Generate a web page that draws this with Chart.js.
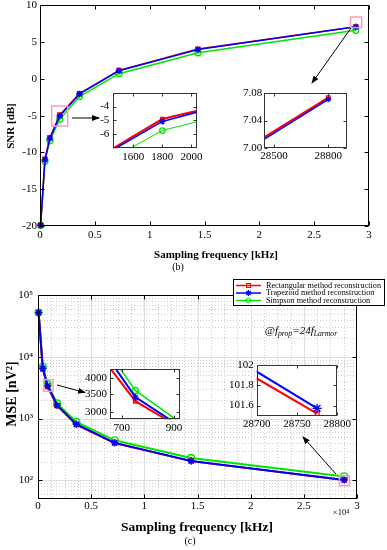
<!DOCTYPE html>
<html>
<head>
<meta charset="utf-8">
<script src="https://cdn.jsdelivr.net/npm/chart.js@4.4.1/dist/chart.umd.min.js"></script>
<style>
  body { margin: 0; width: 387px; height: 550px; position: relative; overflow: hidden; background: #fff;
         font-family: "Liberation Serif", "Times New Roman", serif; color: #000; }
  canvas, svg { position: absolute; }
  .c { position: absolute; transform: translate(-50%, -50%); white-space: nowrap; line-height: 1; }
  .r { transform: translate(-50%, -50%) rotate(-90deg); }
  .b { font-weight: bold; }
  #legend { position: absolute; left: 233px; top: 279px; width: 150px; height: 25px; border: 1px solid #000; background: #fff; }
  #legend .row { position: absolute; left: 32px; font-size: 8.2px; line-height: 1; white-space: nowrap; transform: translateY(-50%); }
  sub { font-size: 70%; vertical-align: -0.3em; }
</style>
</head>
<body>
<canvas id="snr" width="387" height="275" style="left:0;top:0"></canvas>
<canvas id="mse" width="387" height="275" style="left:0;top:275px"></canvas>

<svg width="387" height="550" style="left:0;top:0">
  <defs>
    <marker id="ah" markerWidth="8" markerHeight="6" refX="7" refY="3" orient="auto" markerUnits="userSpaceOnUse">
      <path d="M0,0 L8,3 L0,6 Z" fill="#000"/>
    </marker>
  </defs>
  <g stroke="#000" stroke-width="1" marker-end="url(#ah)">
    <line x1="72" y1="118" x2="99" y2="118"/>
    <line x1="351" y1="28" x2="312" y2="83"/>
    <line x1="57" y1="385" x2="85" y2="392.5"/>
    <line x1="336" y1="474" x2="303" y2="437"/>
  </g>
</svg>

<canvas id="snrIn1" width="118" height="78" style="left:84px;top:86px"></canvas>
<canvas id="snrIn2" width="124" height="76" style="left:228px;top:86px"></canvas>
<canvas id="mseIn1" width="108" height="74" style="left:78px;top:362px"></canvas>
<canvas id="mseIn2" width="134" height="74" style="left:222px;top:358px"></canvas>

<div class="c b" style="left:216px;top:254px;font-size:11px">Sampling frequency [kHz]</div>
<div class="c" style="left:178px;top:267px;font-size:10px">(b)</div>
<div class="c b r" style="left:10px;top:126px;font-size:11px">SNR [dB]</div>

<div class="c b" style="left:197px;top:527px;font-size:13.5px">Sampling frequency [kHz]</div>
<div class="c" style="left:190px;top:541px;font-size:10px">(c)</div>
<div class="c b r" style="left:12px;top:394px;font-size:14px">MSE [nV²]</div>
<div class="c" style="left:341px;top:512px;font-size:8.5px">×10⁴</div>
<div class="c" style="left:301px;top:331px;font-size:11px;font-style:italic">@f<sub>prop</sub>=24f<sub>Larmor</sub></div>

<div id="legend">
  <svg width="30" height="25" style="left:0;top:0">
    <line x1="2" y1="5.5" x2="27" y2="5.5" stroke="#f00" stroke-width="1.5"/>
    <rect x="12.5" y="3.5" width="4" height="4" fill="none" stroke="#f00"/>
    <line x1="2" y1="13" x2="27" y2="13" stroke="#00f" stroke-width="1.5"/>
    <path d="M14.5 10v6M11.5 13h6M12.4 10.9l4.2 4.2M16.6 10.9l-4.2 4.2" stroke="#00f" stroke-width="1.2"/>
    <line x1="2" y1="20.5" x2="27" y2="20.5" stroke="#00e400" stroke-width="1.5"/>
    <circle cx="14.5" cy="20.5" r="2.4" fill="none" stroke="#00e400"/>
  </svg>
  <div class="row" id="lg0" style="top:5.5px"></div>
  <div class="row" id="lg1" style="top:13px"></div>
  <div class="row" id="lg2" style="top:20.5px"></div>
</div>

<script>
// sampling frequencies (Hz) and read-off values
const freq = [56, 450, 900, 1800, 3600, 7200, 14400, 28800];
const snrRect = [-19.9, -10.9, -8.0, -4.9, -2.0, 1.15, 4.05, 7.07];
const snrTrap = [-19.9, -11.0, -8.1, -5.05, -2.05, 1.1, 4.0, 7.07];
const snrSimp = [-19.9, -11.2, -8.4, -5.5, -2.4, 0.7, 3.55, 6.6];
const mseRect = [52000, 6300, 3300, 1620, 800, 402, 205, 101.5];
const mseTrap = [52000, 6500, 3400, 1630, 810, 405, 206, 101.6];
const mseSimp = [52000, 6900, 3600, 1760, 884, 445, 231, 116];

// zoomed insets, as read from them
const snrZoomX = [1400, 1800, 2100];
const snrZoomRect = [-7.39, -4.9, -4.14];
const snrZoomTrap = [-7.48, -5.07, -4.23];
const snrZoomSimp = [-8.03, -5.72, -4.93];
const snrEndX = [28400, 28800];
const snrEndRect = [7.0077, 7.0735];
const snrEndTrap = [7.0048, 7.0712];
const mseZoomX = [600, 752, 1000];
const mseZoomRect = [5130, 3283, 2360];
const mseZoomTrap = [5560, 3400, 2366];
const mseZoomSimp = [5900, 3600, 2420];
const mseEndX = [28650, 28775];
const mseEndRect = [102.10, 101.52];
const mseEndTrap = [102.175, 101.573];

const methods = ['Rectangular method reconstruction', 'Trapezoid method reconstruction', 'Simpson method reconstruction'];
const freqTicks = [0, 5000, 10000, 15000, 20000, 25000, 30000];
const snrTicks = [-20, -15, -10, -5, 0, 5, 10];
const mseTicks = [100, 1000, 10000, 100000];

methods.forEach((m, i) => { document.getElementById('lg' + i).textContent = m; });

const SERIF = '"Liberation Serif", "Times New Roman", serif';
const F11 = { family: SERIF, size: 11 };
const SUP = { 2: '²', 3: '³', 4: '⁴', 5: '⁵' };

const styles = [
  { color: '#ff0000', point: 'rect', r: 2.8, order: 1 },
  { color: '#0000ff', point: 'star', r: 3.3, order: 0 },
  { color: '#00e400', point: 'circle', r: 3, order: 2 }
];

function series(k, xs, ys, lw, ms, clip) {
  const s = styles[k];
  return {
    label: methods[k],
    data: xs.map((x, i) => ({ x, y: ys[i] })),
    borderColor: s.color, borderWidth: lw,
    pointStyle: s.point, pointRadius: s.r * ms,
    pointBorderColor: s.color, pointBackgroundColor: 'rgba(0,0,0,0)', pointBorderWidth: 1.3,
    order: s.order, clip
  };
}

function drawGrid(chart, g) {
  const { ctx, chartArea: a, scales: { x, y } } = chart;
  const vline = p => { p = Math.round(p) + 0.5; ctx.moveTo(p, a.top); ctx.lineTo(p, a.bottom); };
  const hline = p => { p = Math.round(p) + 0.5; ctx.moveTo(a.left, p); ctx.lineTo(a.right, p); };
  ctx.save();
  ctx.lineWidth = 1;
  ctx.strokeStyle = '#cccccc';
  ctx.setLineDash([1, 2]);
  ctx.beginPath();
  for (let v = g.xMinor; v < x.max; v += g.xMinor) if (v % g.xMajor) vline(x.getPixelForValue(v));
  for (let e = 1; e <= 4; e++) for (let m = 2; m <= 9; m++) {
    const v = m * Math.pow(10, e);
    if (v > y.min && v < y.max) hline(y.getPixelForValue(v));
  }
  ctx.stroke();
  ctx.setLineDash([]);
  ctx.strokeStyle = '#dedede';
  ctx.beginPath();
  x.ticks.forEach(t => { if (t.value > x.min && t.value < x.max) vline(x.getPixelForValue(t.value)); });
  y.ticks.forEach(t => { if (t.value > y.min && t.value < y.max) hline(y.getPixelForValue(t.value)); });
  ctx.stroke();
  ctx.restore();
}

const frame = {
  id: 'frame',
  beforeDraw(chart, args, o) {
    if (!o.white) return;
    const { ctx, chartArea: a } = chart;
    ctx.save();
    ctx.fillStyle = '#fff';
    ctx.fillRect(a.left, a.top, a.width, a.height);
    ctx.restore();
  },
  beforeDatasetsDraw(chart, args, o) {
    if (o.grid) drawGrid(chart, o.grid);
  },
  afterDraw(chart, args, o) {
    const { ctx, chartArea: a, scales: { x, y } } = chart;
    ctx.save();
    (o.boxes || []).forEach(b => {
      const x0 = x.getPixelForValue(b[0]), x1 = x.getPixelForValue(b[1]);
      const y0 = y.getPixelForValue(b[2]), y1 = y.getPixelForValue(b[3]);
      ctx.strokeStyle = '#f59ccb';
      ctx.lineWidth = 1.5;
      ctx.strokeRect(x0, y0, x1 - x0, y1 - y0);
    });
    const L = Math.round(a.left) + 0.5, R = Math.round(a.right) - 0.5;
    const T = Math.round(a.top) + 0.5, B = Math.round(a.bottom) - 0.5;
    ctx.strokeStyle = o.color;
    ctx.lineWidth = 1;
    ctx.beginPath();
    x.ticks.forEach(t => {
      const p = Math.round(x.getPixelForValue(t.value)) + 0.5;
      ctx.moveTo(p, B); ctx.lineTo(p, B - o.tick);
      ctx.moveTo(p, T); ctx.lineTo(p, T + o.tick);
    });
    y.ticks.forEach(t => {
      const p = Math.round(y.getPixelForValue(t.value)) + 0.5;
      ctx.moveTo(L, p); ctx.lineTo(L + o.tick, p);
      ctx.moveTo(R, p); ctx.lineTo(R - o.tick, p);
    });
    ctx.stroke();
    ctx.strokeRect(L, T, R - L, B - T);
    ctx.restore();
  }
};

function plot(id, datasets, o) {
  return new Chart(document.getElementById(id), {
    type: 'line',
    data: { datasets },
    options: {
      responsive: false,
      animation: false,
      devicePixelRatio: 1,
      layout: { padding: { left: 0, top: o.top, right: o.right, bottom: 0 } },
      plugins: { legend: { display: false }, tooltip: { enabled: false }, frame: o.frame },
      scales: {
        x: {
          type: 'linear', min: o.xr[0], max: o.xr[1],
          grid: { display: false, drawTicks: false }, border: { display: false },
          ticks: { font: o.font || F11, color: '#000', padding: o.xpad, maxRotation: 0, autoSkip: false,
                   callback: o.xfmt || (v => String(v)) },
          afterBuildTicks: s => { s.ticks = o.xt.map(v => ({ value: v })); },
          afterFit: s => { s.height = o.xh; s.paddingLeft = 0; s.paddingRight = 0; }
        },
        y: {
          type: o.log ? 'logarithmic' : 'linear', min: o.yr[0], max: o.yr[1],
          grid: { display: false, drawTicks: false }, border: { display: false },
          ticks: { font: o.font || F11, color: '#000', padding: o.ypad, autoSkip: false,
                   callback: o.yfmt || (v => String(v)) },
          afterBuildTicks: s => { s.ticks = o.yt.map(v => ({ value: v })); },
          afterFit: s => { s.width = o.yw; s.paddingTop = 0; s.paddingBottom = 0; }
        }
      }
    },
    plugins: [frame]
  });
}

const perTenK = v => String(v / 10000);

// (b) SNR
plot('snr', [
  series(0, freq, snrRect, 1.5, 1, false),
  series(1, freq, snrTrap, 1.5, 1, false),
  series(2, freq, snrSimp, 1.5, 1, false)
], {
  top: 5, right: 18, yw: 40, xh: 49, xpad: 3, ypad: 3,
  xr: [0, 30000], yr: [-20, 10], xt: freqTicks, yt: snrTicks, xfmt: perTenK,
  frame: { tick: 4, color: '#000', boxes: [[1067, 2525, -3.70, -6.42], [28320, 29330, 8.41, 6.97]] }
});

// (c) MSE
plot('mse', [
  series(0, freq, mseRect, 2, 1, false),
  series(1, freq, mseTrap, 2, 1.1, false),
  series(2, freq, mseSimp, 2, 1.15, false)
], {
  top: 20, right: 30, yw: 38, xh: 51, xpad: 1, ypad: 5, log: true,
  xr: [0, 30000], yr: [50, 100000], xt: freqTicks, yt: mseTicks, xfmt: perTenK,
  yfmt: v => '10' + SUP[Math.round(Math.log10(v))],
  frame: { tick: 4, color: '#000', grid: { xMinor: 1250, xMajor: 5000 },
           boxes: [[527, 1411, 4275, 2757], [28345, 29285, 119, 82]] }
});

// insets
plot('snrIn1', [
  series(0, snrZoomX, snrZoomRect, 2, 0.9, 0),
  series(1, snrZoomX, snrZoomTrap, 1.5, 0.9, 0),
  series(2, snrZoomX, snrZoomSimp, 1, 0.9, 0)
], {
  top: 7.3, right: 5.3, yw: 29.3, xh: 15.7, xpad: 2, ypad: 4,
  xr: [1463, 2036], yr: [-7, -3.05], xt: [1600, 1800, 2000], yt: [-6, -5, -4],
  frame: { white: true, tick: 3, color: '#333' }
});

plot('snrIn2', [
  series(0, snrEndX, snrEndRect, 2, 0.9, 0),
  series(1, snrEndX, snrEndTrap, 1.5, 0.9, 0)
], {
  top: 7.3, right: 5.3, yw: 36.3, xh: 14.3, xpad: 2, ypad: 2,
  xr: [28446, 28902], yr: [7.0, 7.08], xt: [28500, 28800], yt: [7.0, 7.04, 7.08],
  yfmt: v => v.toFixed(2),
  frame: { white: true, tick: 3, color: '#333' }
});

plot('mseIn1', [
  series(0, mseZoomX, mseZoomRect, 2, 0.9, 0),
  series(1, mseZoomX, mseZoomTrap, 2, 1, 0),
  series(2, mseZoomX, mseZoomSimp, 1.5, 1, 0)
], {
  top: 7, right: 6, yw: 32, xh: 16.7, xpad: 2, ypad: 3, log: true,
  xr: [655, 923], yr: [2810, 4330], xt: [700, 900], yt: [3000, 3500, 4000],
  frame: { white: true, tick: 3, color: '#333' }
});

plot('mseIn2', [
  series(0, mseEndX, mseEndRect, 2, 1, 0),
  series(1, mseEndX, mseEndTrap, 2, 1.4, 0)
], {
  top: 7, right: 18.7, yw: 34.7, xh: 16.3, xpad: 2, ypad: 3,
  xr: [28700, 28800], yr: [101.5, 102], xt: [28700, 28750, 28800], yt: [101.6, 101.8, 102],
  frame: { white: true, tick: 3, color: '#333' }
});
</script>
</body>
</html>
